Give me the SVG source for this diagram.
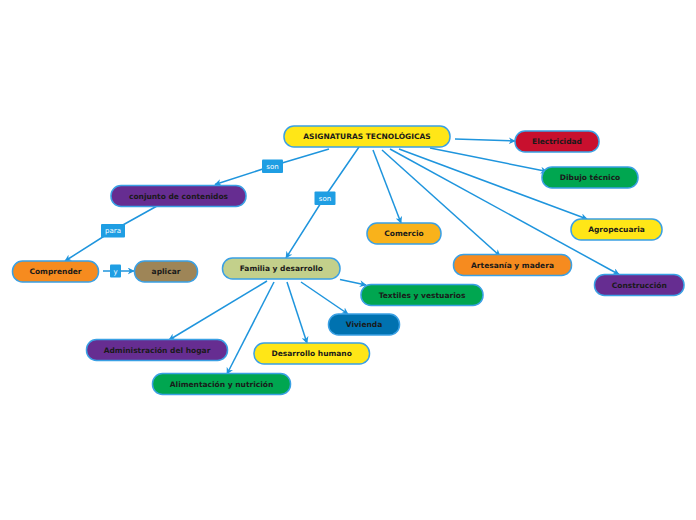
<svg xmlns="http://www.w3.org/2000/svg" width="696" height="520" viewBox="0 0 696 520">
<defs>
<marker id="ah" viewBox="0 0 10 10" refX="9" refY="5" markerWidth="7" markerHeight="7" markerUnits="userSpaceOnUse" orient="auto">
<path d="M0,0 L10,5 L0,10 L3,5 z" fill="#1f95dd"/>
</marker>
<style>
.n rect{stroke:#3aa0e4;stroke-width:1.5}
.n text{font-family:"DejaVu Sans",Verdana,sans-serif;font-weight:bold;font-size:7.5px;fill:#1a1a1a;text-anchor:middle}
.e{fill:none;stroke:#1f95dd;stroke-width:1.5}
.l rect{fill:#1f9ee3}
.l text{font-family:"DejaVu Sans",Verdana,sans-serif;font-size:7px;fill:#ffffff;text-anchor:middle}
</style>
</defs>
<rect width="696" height="520" fill="#ffffff"/>
<g id="connectors">
<polyline class="e" points="329,149 272,166 215,184.5" marker-end="url(#ah)"/>
<polyline class="e" points="359,147 324,198 286,258" marker-end="url(#ah)"/>
<line class="e" x1="373" y1="150" x2="401" y2="223" marker-end="url(#ah)"/>
<line class="e" x1="382" y1="150" x2="500" y2="256" marker-end="url(#ah)"/>
<line class="e" x1="390" y1="149" x2="619" y2="274.5" marker-end="url(#ah)"/>
<line class="e" x1="399" y1="149" x2="587" y2="219" marker-end="url(#ah)"/>
<line class="e" x1="430" y1="148" x2="547" y2="171.5" marker-end="url(#ah)"/>
<line class="e" x1="455" y1="139" x2="515" y2="141" marker-end="url(#ah)"/>
<polyline class="e" points="157,206 113,230.5 65,261" marker-end="url(#ah)"/>
<polyline class="e" points="103,271 115,271 134,271" marker-end="url(#ah)"/>
<line class="e" x1="267" y1="281" x2="169" y2="340" marker-end="url(#ah)"/>
<line class="e" x1="274" y1="282" x2="227" y2="374" marker-end="url(#ah)"/>
<line class="e" x1="287" y1="282" x2="307" y2="343" marker-end="url(#ah)"/>
<line class="e" x1="301" y1="282" x2="348" y2="314" marker-end="url(#ah)"/>
<line class="e" x1="340" y1="279.5" x2="366" y2="285" marker-end="url(#ah)"/>
</g>
<g id="lbl-son1" class="l"><rect x="262" y="159.5" width="21" height="13.5" rx="1"/><text x="272.5" y="168.8">son</text></g>
<g id="lbl-son2" class="l"><rect x="314.5" y="191.5" width="21" height="13.5" rx="1"/><text x="325" y="200.8">son</text></g>
<g id="lbl-para" class="l"><rect x="101" y="224" width="24" height="13.5" rx="1"/><text x="113" y="233.3">para</text></g>
<g id="lbl-y" class="l"><rect x="110" y="264.5" width="11" height="13" rx="1"/><text x="115.5" y="273.5">y</text></g>
<g id="root" class="n"><rect x="284" y="126" width="166" height="21" rx="10" fill="#ffe617"/><text x="367" y="139.2">ASIGNATURAS TECNOLÓGICAS</text></g>
<g id="electricidad" class="n"><rect x="515" y="131" width="84" height="21" rx="10" fill="#c8102e"/><text x="557" y="144.2">Electricidad</text></g>
<g id="dibujo" class="n"><rect x="542" y="167" width="96" height="21" rx="10" fill="#00a650"/><text x="590" y="180.2">Dibujo técnico</text></g>
<g id="agropecuaria" class="n"><rect x="571" y="219" width="91" height="21" rx="10" fill="#ffe617"/><text x="616.5" y="232.2">Agropecuaria</text></g>
<g id="comercio" class="n"><rect x="367" y="223" width="74" height="21" rx="10" fill="#f9b21b"/><text x="404" y="236.2">Comercio</text></g>
<g id="artesania" class="n"><rect x="453.5" y="254.5" width="118" height="21" rx="10" fill="#f68b1f"/><text x="512.5" y="267.7">Artesanía y madera</text></g>
<g id="construccion" class="n"><rect x="594.5" y="274.5" width="89.5" height="21" rx="10" fill="#662d91"/><text x="639.3" y="287.7">Construcción</text></g>
<g id="textiles" class="n"><rect x="361" y="284.5" width="122" height="21" rx="10" fill="#00a650"/><text x="422" y="297.7">Textiles y vestuarios</text></g>
<g id="familia" class="n"><rect x="222.5" y="258" width="117.5" height="21" rx="10" fill="#c3d08b"/><text x="281.3" y="271.2">Familia y desarrollo</text></g>
<g id="conjunto" class="n"><rect x="111" y="185.5" width="135" height="21" rx="10" fill="#662d91"/><text x="178.5" y="198.7">conjunto de contenidos</text></g>
<g id="comprender" class="n"><rect x="12.5" y="261" width="86" height="21" rx="10" fill="#f68b1f"/><text x="55.5" y="274.2">Comprender</text></g>
<g id="aplicar" class="n"><rect x="134.5" y="261" width="63" height="21" rx="10" fill="#9e8557"/><text x="166" y="274.2">aplicar</text></g>
<g id="vivienda" class="n"><rect x="328.5" y="314" width="71" height="21" rx="10" fill="#0072b0"/><text x="364" y="327.2">Vivienda</text></g>
<g id="admin" class="n"><rect x="86.5" y="339.5" width="141" height="21" rx="10" fill="#662d91"/><text x="157" y="352.7">Administración del hogar</text></g>
<g id="desarrollo" class="n"><rect x="254" y="343" width="115.5" height="21" rx="10" fill="#ffe617"/><text x="311.7" y="356.2">Desarrollo humano</text></g>
<g id="alimentacion" class="n"><rect x="152.5" y="373.5" width="138" height="21" rx="10" fill="#00a650"/><text x="221.5" y="386.7">Alimentación y nutrición</text></g>
</svg>
